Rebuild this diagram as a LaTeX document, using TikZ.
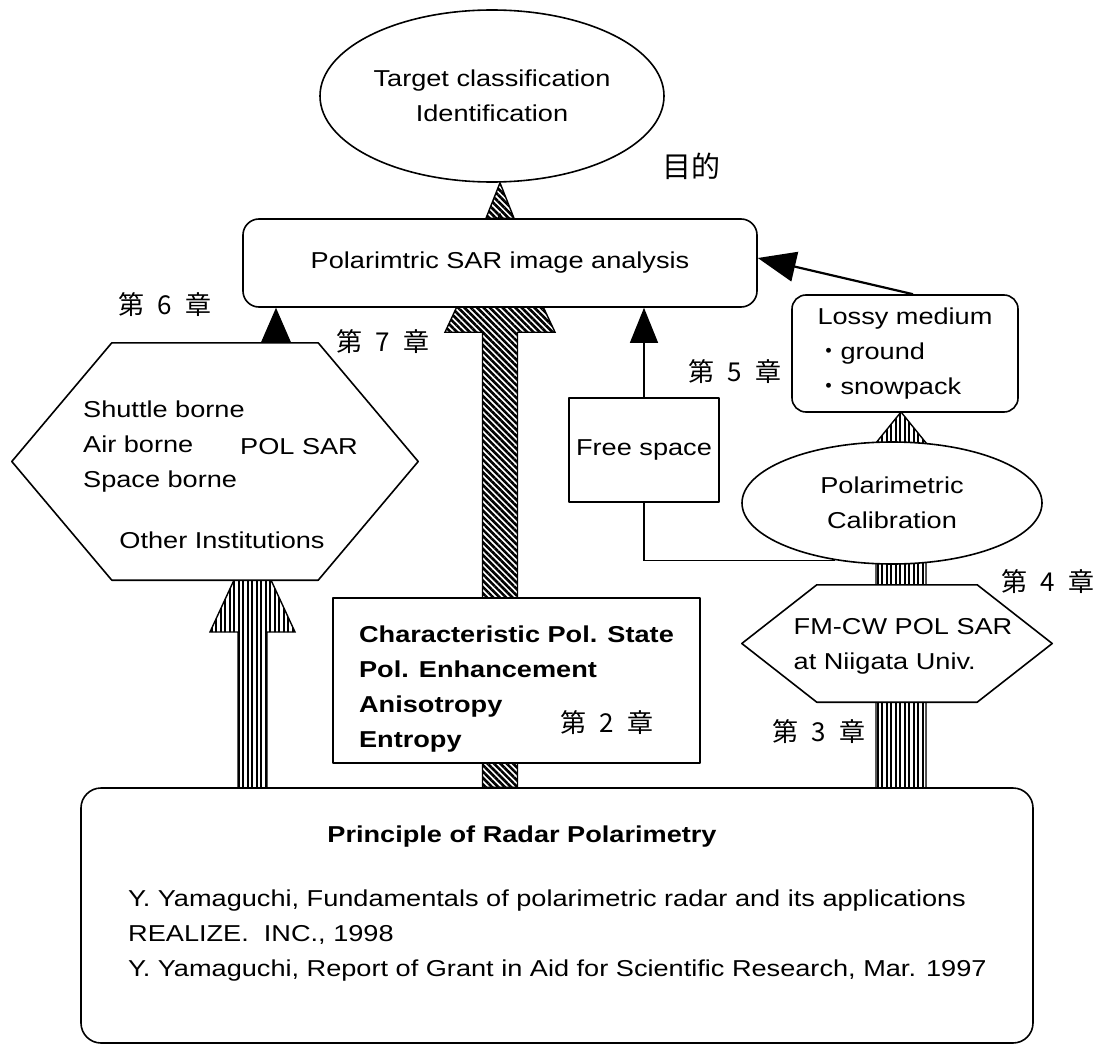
\documentclass[tikz,border=0pt]{standalone}
\usepackage{fontspec}
\setmainfont[FakeStretch=1.18]{Liberation Sans}
\newfontfamily\cjk{Noto Sans CJK JP}
\usetikzlibrary{shapes.geometric, arrows.meta, patterns.meta, backgrounds}

\newcommand{\bodyfont}{\fontsize{23}{35}\selectfont}
\newcommand{\chlabel}[1]{{\cjk\fontsize{26}{28}\selectfont 第\hspace{.5em}#1\hspace{.5em}章}}

\begin{document}
\begin{tikzpicture}[x=1pt, y=-1pt, font=\bodyfont, line join=round]
    % Define styles
    \tikzset{
        box/.style={draw, line width=1.6pt, fill=white, inner sep=0pt},
        roundbox/.style={box, rounded corners=16pt},
        oval/.style={box, ellipse},
        hexbox/.style={inner sep=0pt},
        hexline/.style={line width=1.6pt, fill=white},
        hatched/.style={draw, line width=1.4pt, pattern={Lines[angle=-45,distance=4.5pt,line width=2.6pt]}},
        striped/.style={draw, line width=1.4pt, pattern={Lines[angle=90,distance=4.5pt,line width=2pt]}},
        blackhead/.style={-{Triangle[length=36pt,width=31pt]}, line width=1pt},
        thinarrow/.style={-{Triangle[length=35pt,width=28pt]}, line width=1.2pt},
        chapter/.style={inner sep=0pt},
    }
    \useasboundingbox (0,0) rectangle (1098,1046);

    % Goal and analysis
    \node[oval, minimum width=344pt, minimum height=172pt, align=center] (target) at (492,96) {Target classification\\Identification};
    \node[chapter, font=\cjk\fontsize{29}{30}\selectfont] (goal) at (691,166) {目的};
    \node[roundbox, minimum width=514pt, minimum height=88pt] (main) at (500,263) {Polarimtric SAR image analysis};

    % Other institutions
    \node[hexbox, minimum width=206pt, minimum height=237pt] (hexL) at (215,461.5) {};
    \draw[hexline] (hexL.north west) -- (hexL.north east) -- ([xshift=100pt]hexL.east) -- (hexL.south east)
        -- (hexL.south west) -- ([xshift=-100pt]hexL.west) -- cycle;
    \node[anchor=west, align=left, inner sep=0pt] (craft) at (83,447) {Shuttle borne\\Air borne\\Space borne};
    \node[anchor=west, inner sep=0pt] (polsar) at (240,447) {POL SAR};
    \node[inner sep=0pt] (others) at (222,540) {Other Institutions};
    \node[chapter] (ch6) at (165,305) {\chlabel{6}};
    \node[chapter] (ch7) at (383,342) {\chlabel{7}};

    % Niigata side
    \node[box, minimum width=150pt, minimum height=104pt] (free) at (644,450) {Free space};
    \node[chapter] (ch5) at (735,372) {\chlabel{5}};
    \node[roundbox, rounded corners=14pt, minimum width=226pt, minimum height=117pt, align=left] (lossy) at (905,353.5)
        {Lossy medium\\{\cjk ・}ground\\{\cjk ・}snowpack};
    \node[oval, minimum width=300pt, minimum height=122pt, align=center] (calib) at (892,503) {Polarimetric\\Calibration};
    \node[chapter] (ch4) at (1048,582) {\chlabel{4}};
    \node[hexbox, minimum width=160pt, minimum height=117pt] (hexR) at (897,643.5) {};
    \draw[hexline] (hexR.north west) -- (hexR.north east) -- ([xshift=75pt]hexR.east) -- (hexR.south east)
        -- (hexR.south west) -- ([xshift=-75pt]hexR.west) -- cycle;
    \node[align=left, inner sep=0pt] (fmcw) at (903,646) {FM-CW POL SAR\\at Niigata Univ.};
    \node[chapter] (ch3) at (819,732) {\chlabel{3}};

    % Pol. state box
    \node[box, minimum width=367pt, minimum height=165pt] (charac) at (516.5,680.5) {};
    \node[align=left, inner sep=0pt, font=\bodyfont\bfseries] (charactext) at (516.5,689)
        {Characteristic Pol. State\\Pol. Enhancement\\Anisotropy\\Entropy};
    \node[chapter] (ch2) at (607,723) {\chlabel{2}};

    % Principle
    \node[roundbox, rounded corners=20pt, minimum width=952pt, minimum height=255pt] (princ) at (557,915.5) {};
    \node[font=\bodyfont\bfseries] (princtitle) at (522,837) {Principle of Radar Polarimetry};
    \node[anchor=west, align=left, inner sep=0pt] (refs) at (128,936)
        {Y. Yamaguchi, Fundamentals of polarimetric radar and its applications\\
         REALIZE.\ \ INC., 1998\\
         Y. Yamaguchi, Report of Grant in Aid for Scientific Research, Mar. 1997};

    % Arrows
    \begin{scope}[on background layer]
        \filldraw[hatched] ([xshift=-14pt]main.north) -- (main.north |- target.south) -- ([xshift=14pt]main.north) -- cycle;

        \coordinate (foot7) at (princ.north -| main.south);
        \filldraw[hatched, shift={(foot7)}] (-17.5,0) -- (-17.5,-455) -- (-55,-455) -- (0,-573)
            -- (55,-455) -- (17.5,-455) -- (17.5,0) -- cycle;

        \coordinate (foot6) at (252.5,788);
        \filldraw[striped, shift={(foot6)}] (-14.5,0) -- (-14.5,-156) -- (-42.5,-156) -- (0,-248)
            -- (42.5,-156) -- (14.5,-156) -- (14.5,0) -- cycle;

        \coordinate (foot3) at (901,788);
        \filldraw[striped, shift={(foot3)}] (-25,0) -- (-25,-318) -- (-47,-318) -- (0,-376)
            -- (47,-318) -- (25,-318) -- (25,0) -- cycle;

        \coordinate (c6) at (276,343);
        \draw[blackhead] (c6) -- (c6 |- main.south);
        \draw[thinarrow] (free.north) -- (free.north |- main.south);
        \draw[line width=1.2pt] (free.south) |- (calib.225);
        \draw[-{Triangle[length=38pt,width=30pt]}, line width=2.2pt] ([xshift=8pt]lossy.north) -- ([yshift=5pt]main.east);
    \end{scope}
\end{tikzpicture}
\end{document}
